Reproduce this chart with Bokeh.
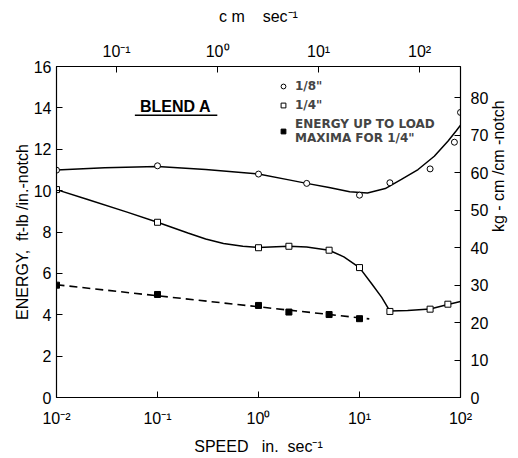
import math
from bokeh.plotting import figure
from bokeh.models import (LogAxis, LinearAxis, Range1d, FixedTicker, Legend,
                          LegendItem, Label, LogScale)
from bokeh.embed import file_html
from bokeh.resources import INLINE

# ---------------- data (speed in in./sec, energy in ft-lb/in.-notch) ----------
speed_18 = [0.01, 0.1, 1, 3, 10, 20, 50, 87, 100]
energy_18 = [10.99, 11.2, 10.8, 10.35, 9.78, 10.38, 11.05, 12.34, 13.78]

curve_18_x = [0.01, 0.03, 0.1, 0.3, 1, 2, 3, 5, 8, 12, 18, 26, 38, 55, 75, 90, 100]
curve_18_y = [11.0, 11.1, 11.17, 11.02, 10.8, 10.52, 10.35, 10.15, 9.95, 9.89,
              10.1, 10.54, 11.02, 11.66, 12.39, 12.87, 13.16]

speed_14 = [0.01, 0.1, 1, 2, 5, 10, 20, 50, 75]
energy_14 = [10.05, 8.47, 7.24, 7.31, 7.12, 6.28, 4.16, 4.27, 4.51]

curve_14_x = [0.01, 0.02, 0.05, 0.1, 0.2, 0.3, 0.45, 0.7, 1, 1.5, 2, 3, 5, 7, 10,
              13.2, 16.6, 20, 30, 50, 75, 100]
curve_14_y = [10.05, 9.58, 8.96, 8.47, 7.95, 7.66, 7.44, 7.31, 7.25, 7.29, 7.31,
              7.28, 7.12, 6.8, 6.28, 5.5, 4.84, 4.18, 4.2, 4.28, 4.5, 4.64]

speed_max = [0.01, 0.1, 1, 2, 5, 10]
energy_max = [5.43, 4.98, 4.45, 4.13, 4.01, 3.81]
fit_max_x = [0.01, 12.5]
fit_max_y = [5.45, 3.8]

bottom_ticks = [0.01, 0.1, 1, 10, 100]
bottom_labels = ["10\u207b\u00b2", "10\u207b\u00b9", "10\u2070", "10\u00b9", "10\u00b2"]
top_ticks = [0.1, 1, 10, 100]
top_labels = ["10\u207b\u00b9", "10\u2070", "10\u00b9", "10\u00b2"]
left_ticks = [0, 2, 4, 6, 8, 10, 12, 14, 16]
right_ticks = [0, 10, 20, 30, 40, 50, 60, 70, 80]

X_RANGE = (0.01, 100)
CM_PER_IN = 2.54
Y_RANGE = (0, 16)
KG_RANGE = (0, 88.4)

FONT = "Liberation Sans"
NB = "\u00a0"

p = figure(width=518, height=458, x_axis_type=None, y_axis_type=None,
           x_range=Range1d(*X_RANGE), y_range=Range1d(*Y_RANGE),
           output_backend="svg", toolbar_location=None,
           min_border_left=56, min_border_right=55, min_border_top=66,
           min_border_bottom=61)
p.xgrid.visible = False
p.ygrid.visible = False
p.outline_line_color = "black"
p.background_fill_color = "white"
p.border_fill_color = "white"

p.extra_x_ranges = {"cm": Range1d(X_RANGE[0] * CM_PER_IN, X_RANGE[1] * CM_PER_IN)}
p.extra_y_ranges = {"kg": Range1d(*KG_RANGE)}
p.x_scale = LogScale()
p.extra_x_scales = {"cm": LogScale()}


def style(ax, size="16px"):
    ax.axis_line_color = "black"
    ax.axis_line_width = 1.2
    ax.major_tick_in = 6
    ax.major_tick_out = 0
    ax.minor_tick_line_color = None
    ax.major_label_text_font = FONT
    ax.major_label_text_font_size = size
    ax.major_label_text_color = "black"
    ax.axis_label_text_font = FONT
    ax.axis_label_text_font_style = "normal"
    ax.axis_label_text_font_size = "16px"
    ax.axis_label_text_color = "black"


bx = LogAxis(ticker=FixedTicker(ticks=bottom_ticks),
             axis_label="SPEED" + NB * 3 + "in." + NB * 2 + "sec\u207b\u00b9")
bx.major_label_overrides = dict(zip(bottom_ticks, bottom_labels))
style(bx)
bx.major_label_standoff = 12
bx.axis_label_standoff = 8
p.add_layout(bx, "below")

tx = LogAxis(x_range_name="cm", ticker=FixedTicker(ticks=top_ticks),
             axis_label="c" + NB + "m" + NB * 4 + "sec\u207b\u00b9")
tx.major_label_overrides = dict(zip(top_ticks, top_labels))
style(tx)
tx.major_label_standoff = 7
tx.axis_label_standoff = 15
p.add_layout(tx, "above")

ly = LinearAxis(ticker=FixedTicker(ticks=left_ticks),
                axis_label="ENERGY," + NB * 2 + "ft-lb" + NB + "/in.-notch")
style(ly)
ly.major_label_standoff = 5
ly.axis_label_standoff = 0
p.add_layout(ly, "left")

ry = LinearAxis(y_range_name="kg", ticker=FixedTicker(ticks=right_ticks),
                axis_label="kg" + NB + "-" + NB + "cm" + NB + "/cm" + NB + "-notch")
style(ry)
ry.major_label_standoff = 10
ry.axis_label_standoff = 7
try:
    ry.axis_label_orientation = math.pi / 2
except Exception:
    pass
p.add_layout(ry, "right")

p.line(curve_18_x, curve_18_y, line_color="black", line_width=1.5)
p.line(curve_14_x, curve_14_y, line_color="black", line_width=1.5)
p.line(fit_max_x, fit_max_y, line_color="black", line_width=1.6, line_dash="8 5")

r18 = p.scatter(speed_18, energy_18, marker="circle", size=6, line_color="black",
                fill_color="white", line_width=1)
r14 = p.scatter(speed_14, energy_14, marker="square", size=6, line_color="black",
                fill_color="white", line_width=1)
rmx = p.scatter(speed_max, energy_max, marker="square", size=6, line_color="black",
                fill_color="black", line_width=1)

legend = Legend(items=[
    LegendItem(label="1/8\"", renderers=[r18]),
    LegendItem(label="1/4\"", renderers=[r14]),
    LegendItem(label="ENERGY UP TO LOAD\nMAXIMA FOR 1/4\"", renderers=[rmx]),
], location=(221, 252), border_line_color=None, background_fill_alpha=0,
    label_text_font="DejaVu Sans", label_text_font_size="12px",
    label_text_font_style="bold", label_text_line_height=1.5,
    glyph_width=12, glyph_height=12, label_standoff=6, spacing=5, padding=0,
    margin=0, label_height=12)
p.add_layout(legend)

BLEND_X, BLEND_Y = 0.151, 14.07
p.add_layout(Label(x=BLEND_X, y=BLEND_Y, text="BLEND A", text_align="center",
                   text_baseline="middle", text_font=FONT, text_font_size="16px",
                   text_font_style="bold", text_color="black"))
UL_X0, UL_X1, UL_Y = 0.0597, 0.391, 13.64
p.segment(x0=[UL_X0], y0=[UL_Y], x1=[UL_X1], y1=[UL_Y], line_color="black",
          line_width=1.5)

open("out.html", "w").write(file_html(p, INLINE))
